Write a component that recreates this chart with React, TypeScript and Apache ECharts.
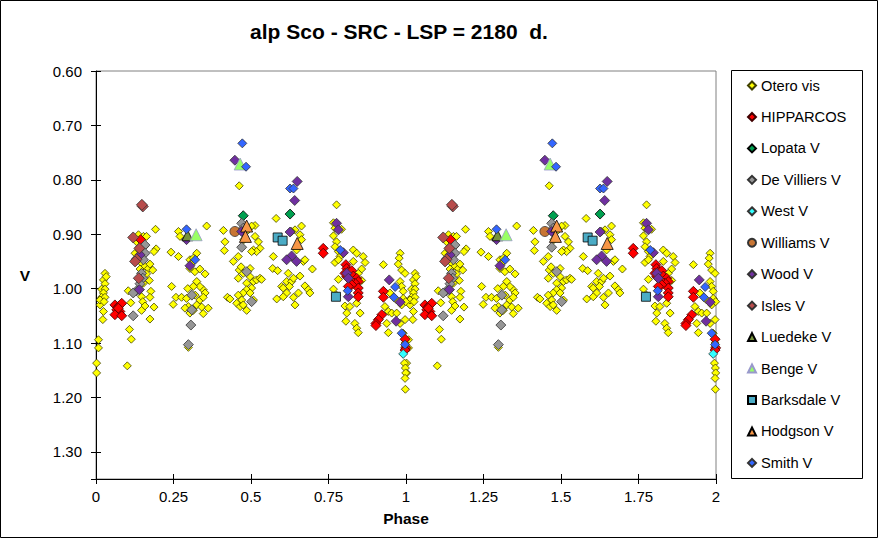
import React, { useEffect, useRef } from 'react';
import * as echarts from 'echarts';

// phase / V pairs for one cycle (0..1); the plot repeats it for 1..2
const oteroVis = [
  [0.029, 0.972], [0.024, 0.984], [0.029, 0.991], [0.018, 1.001], [0.029, 1.001], [0.024, 1.008],
  [0.018, 1.016], [0.029, 1.016], [0.013, 1.03], [0.024, 1.042], [0.022, 1.057], [0.008, 1.094],
  [0.008, 1.109], [0.002, 1.137], [0.002, 1.155], [0.013, 1.021], [0.026, 1.024], [0.033, 0.978],
  [0.104, 1.004], [0.112, 1.026], [0.108, 1.075], [0.114, 1.093], [0.101, 1.142],
  [0.137, 0.901], [0.131, 0.914], [0.142, 0.923], [0.153, 0.904], [0.163, 0.904], [0.126, 0.935],
  [0.137, 0.947], [0.147, 0.953], [0.158, 0.959], [0.142, 0.964], [0.169, 0.963], [0.183, 0.966],
  [0.174, 0.955], [0.163, 0.973], [0.172, 0.985], [0.153, 0.99], [0.142, 1.002], [0.177, 1.005],
  [0.147, 1.015], [0.174, 1.016], [0.151, 1.024], [0.158, 1.032], [0.147, 1.04], [0.187, 1.034],
  [0.174, 1.056], [0.192, 0.891], [0.194, 0.927], [0.187, 0.932], [0.156, 0.923], [0.14, 0.93],
  [0.242, 0.933], [0.266, 0.941], [0.266, 0.895], [0.271, 0.904], [0.244, 0.996], [0.249, 1.029],
  [0.258, 1.016], [0.276, 1.016], [0.292, 1.018], [0.298, 1.033], [0.287, 1.036], [0.303, 1.045],
  [0.314, 1.04], [0.325, 1.03], [0.335, 1.021], [0.346, 1.002], [0.352, 1.008], [0.346, 1.016],
  [0.341, 1.034], [0.362, 1.036], [0.346, 1.046], [0.335, 0.996], [0.303, 0.947], [0.309, 0.953],
  [0.325, 0.935], [0.314, 0.944], [0.303, 0.963], [0.319, 0.969], [0.335, 0.964], [0.352, 0.973],
  [0.325, 0.987], [0.314, 0.996], [0.298, 1.108], [0.357, 0.885], [0.32, 1.012], [0.296, 1.0],
  [0.411, 0.893], [0.416, 0.914], [0.414, 0.93], [0.443, 0.95], [0.459, 0.941], [0.462, 0.966],
  [0.475, 0.972], [0.459, 0.981], [0.486, 0.99], [0.497, 0.978], [0.508, 0.987], [0.518, 0.984],
  [0.529, 0.981], [0.534, 0.983], [0.502, 0.999], [0.486, 1.002], [0.475, 1.008], [0.459, 1.012],
  [0.47, 1.021], [0.497, 1.008], [0.424, 1.016], [0.432, 1.019], [0.454, 1.027], [0.465, 1.033],
  [0.475, 1.03], [0.486, 1.04], [0.508, 1.021], [0.462, 0.811], [0.513, 0.884], [0.513, 0.904],
  [0.524, 0.914], [0.529, 0.926], [0.508, 0.929], [0.518, 0.932], [0.502, 0.932], [0.477, 0.91],
  [0.502, 0.885], [0.491, 0.892], [0.497, 0.963], [0.468, 0.96],
  [0.581, 0.871], [0.572, 0.941], [0.57, 0.963], [0.586, 0.967], [0.599, 0.996], [0.604, 0.999],
  [0.615, 0.987], [0.62, 0.972], [0.631, 0.987], [0.637, 0.981], [0.624, 0.996], [0.615, 1.008],
  [0.604, 1.015], [0.583, 1.019], [0.637, 1.016], [0.642, 1.03], [0.653, 1.008], [0.658, 0.977],
  [0.674, 0.995], [0.685, 1.002], [0.69, 1.008], [0.698, 0.964], [0.669, 0.95], [0.674, 0.947],
  [0.663, 0.885], [0.658, 0.901], [0.663, 0.91], [0.647, 0.929], [0.642, 0.892], [0.631, 0.895],
  [0.776, 0.846], [0.766, 0.879], [0.771, 0.889], [0.782, 0.892], [0.792, 0.891], [0.766, 0.903],
  [0.776, 0.914], [0.771, 0.923], [0.782, 0.932], [0.787, 0.941], [0.771, 0.952], [0.782, 0.947],
  [0.798, 0.935], [0.83, 0.929], [0.841, 0.935], [0.862, 0.941], [0.868, 0.952], [0.857, 0.964],
  [0.846, 0.972], [0.835, 0.981], [0.83, 0.95], [0.857, 0.985], [0.782, 0.983], [0.766, 1.001],
  [0.776, 1.012], [0.803, 1.032], [0.809, 1.045], [0.806, 1.06], [0.819, 1.033], [0.835, 1.064],
  [0.841, 1.073], [0.846, 1.081], [0.852, 1.045], [0.841, 1.027],
  [0.927, 0.956], [0.981, 0.935], [0.978, 0.944], [0.975, 0.955], [0.986, 0.966], [0.997, 0.972],
  [0.981, 0.987], [0.986, 0.996], [0.991, 1.005], [0.991, 1.018], [0.97, 1.021], [0.948, 1.008],
  [0.932, 1.033], [0.943, 1.042], [0.954, 1.045], [0.938, 1.064], [0.943, 1.081], [0.97, 1.045],
  [0.981, 1.064], [0.997, 1.057], [0.986, 1.03], [0.999, 1.024], [0.991, 1.082], [0.997, 1.1],
  [0.998, 1.106], [0.995, 1.137], [0.998, 1.146], [0.999, 1.155], [0.997, 1.165], [0.998, 1.185],
];
const hipparcos = [
  [0.061, 1.03], [0.072, 1.033], [0.083, 1.027], [0.067, 1.039], [0.077, 1.042], [0.061, 1.048],
  [0.083, 1.05], [0.072, 1.036], [0.144, 0.91], [0.733, 0.926], [0.733, 0.935], [0.806, 0.956],
  [0.809, 0.963], [0.814, 0.969], [0.825, 0.967], [0.83, 0.977], [0.841, 0.981], [0.846, 0.987],
  [0.835, 0.99], [0.819, 0.984], [0.809, 0.978], [0.846, 0.999], [0.846, 1.008], [0.846, 1.015],
  [0.825, 0.993], [0.814, 0.996], [0.803, 0.972], [0.927, 1.005], [0.927, 1.016], [0.922, 1.048],
  [0.911, 1.057], [0.903, 1.064], [0.903, 1.068], [0.997, 1.093], [0.999, 1.109], [0.997, 1.113],
];
const lopata = [[0.475, 0.866], [0.626, 0.863]];
const deVilliers = [
  [0.158, 0.92], [0.158, 0.935], [0.153, 0.947], [0.147, 0.972], [0.151, 0.981], [0.142, 0.991],
  [0.131, 1.004], [0.12, 1.008], [0.12, 1.05], [0.47, 0.88], [0.475, 0.889], [0.47, 0.924],
  [0.486, 0.969], [0.502, 1.024], [0.309, 1.012], [0.309, 1.039], [0.306, 1.067], [0.298, 1.103],
];
const west = [[0.991, 1.12]];
const williams = [[0.448, 0.895]];
const wood = [
  [0.448, 0.764], [0.649, 0.803], [0.641, 0.838], [0.626, 0.896], [0.631, 0.94], [0.615, 0.947],
  [0.647, 0.95], [0.292, 0.91], [0.303, 0.958], [0.142, 0.938], [0.14, 1.002], [0.809, 0.972],
  [0.814, 0.981], [0.814, 1.015], [0.776, 0.88], [0.782, 0.892], [0.798, 0.934], [0.946, 0.984],
  [0.968, 1.06], [0.981, 1.025], [0.47, 0.895],
];
const isles = [[0.151, 0.849], [0.148, 0.846], [0.12, 0.906], [0.14, 0.926], [0.131, 0.946], [0.126, 0.95], [0.138, 0.981]];
const luedeke = [[0.295, 0.902]];
const benge = [[0.465, 0.771], [0.323, 0.901]];
const barksdale = [[0.586, 0.906], [0.602, 0.912], [0.774, 1.015]];
const hodgson = [[0.486, 0.885], [0.482, 0.904], [0.649, 0.917]];
const smith = [
  [0.472, 0.733], [0.484, 0.776], [0.626, 0.816], [0.637, 0.816], [0.292, 0.891], [0.32, 0.947],
  [0.788, 0.929], [0.812, 1.004], [0.965, 0.997], [0.961, 1.016], [0.986, 1.082], [0.997, 1.103],
];

const yTicks = [0.6, 0.7, 0.8, 0.9, 1.0, 1.1, 1.2, 1.3];

const FONT = 'Arial, "Liberation Sans", sans-serif';

// two cycles of phase
const twoCycles = (pts: number[][]) => pts.flatMap(([p, v]) => [[p, v], [p + 1, v]]);

const App = () => {
  const chartRef = useRef<HTMLDivElement>(null);

  useEffect(() => {
    if (!chartRef.current) return;
    const chart = echarts.init(chartRef.current, null, { renderer: 'svg' });

    const mk = (name: string, data: number[][], symbol: string, size: number, color: string, border = '#333') => ({
      name,
      type: 'scatter',
      data: twoCycles(data),
      symbol,
      symbolSize: size,
      itemStyle: { color, borderColor: border, borderWidth: 0.8, opacity: 1 },
      emphasis: { disabled: true },
    });

    const axisCommon = {
      axisLine: { show: true, lineStyle: { color: '#000', width: 1 } },
      splitLine: { show: false },
    };

    chart.setOption({
      animation: false,
      backgroundColor: '#fff',
      textStyle: { fontFamily: FONT },
      title: {
        text: 'alp Sco - SRC - LSP = 2180  d.',
        left: 394,
        top: 16,
        textAlign: 'center',
        textStyle: { fontSize: 21, fontWeight: 'bold', color: '#000', fontFamily: FONT },
      },
      grid: {
        left: 96, top: 71, width: 620, height: 408,
        show: true, borderColor: '#808080', borderWidth: 1,
      },
      legend: {
        orient: 'vertical',
        left: 747,
        top: 78,
        padding: 0,
        itemGap: 16.45,
        itemWidth: 8,
        itemHeight: 8,
        textStyle: { fontSize: 14.7, color: '#000', fontFamily: FONT },
        selectedMode: false,
      },
      xAxis: [
        {
          ...axisCommon,
          type: 'value', min: 0, max: 2, interval: 0.25,
          position: 'bottom',
          name: 'Phase', nameLocation: 'middle', nameGap: 31,
          nameTextStyle: { fontSize: 15.5, fontWeight: 'bold', color: '#000', fontFamily: FONT },
          axisTick: { show: true, length: 5, lineStyle: { color: '#000' } },
          axisLabel: { fontSize: 15, color: '#000', margin: 10, fontFamily: FONT },
        },
        {
          type: 'value', min: 0, max: 2, interval: 0.25,
          position: 'bottom', offset: 0,
          axisLine: { show: false },
          splitLine: { show: false },
          axisTick: { show: true, inside: true, length: 5, lineStyle: { color: '#000' } },
          axisLabel: { show: false },
        },
      ],
      yAxis: [
        {
          ...axisCommon,
          type: 'value', inverse: true, min: 0.6, max: 1.35, interval: 0.1,
          position: 'left',
          name: 'V', nameLocation: 'middle', nameGap: 66, nameRotate: 0,
          nameTextStyle: { fontSize: 15.5, fontWeight: 'bold', color: '#000', fontFamily: FONT },
          axisTick: { show: true, length: 5, lineStyle: { color: '#000' } },
          axisLabel: {
            fontSize: 15, color: '#000', margin: 14, fontFamily: FONT,
            formatter: (v: number) => (yTicks.some((t) => Math.abs(t - v) < 1e-6) ? v.toFixed(2) : ''),
          },
        },
        {
          type: 'value', inverse: true, min: 0.6, max: 1.35, interval: 0.1,
          position: 'left', offset: 0,
          axisLine: { show: false },
          splitLine: { show: false },
          axisTick: { show: true, inside: true, length: 5, lineStyle: { color: '#000' } },
          axisLabel: { show: false },
        },
      ],
      graphic: [
        { type: 'rect', shape: { x: 0.5, y: 0.5, width: 877, height: 537 }, style: { fill: 'none', stroke: '#000', lineWidth: 1 }, silent: true },
        { type: 'rect', shape: { x: 731.5, y: 70.5, width: 131, height: 408 }, style: { fill: 'none', stroke: '#000', lineWidth: 1 }, silent: true },
      ],
      series: [
        mk('Otero vis', oteroVis, 'diamond', 8, '#FFFF00', '#404000'),
        mk('HIPPARCOS', hipparcos, 'diamond', 10, '#FF0000', '#400000'),
        mk('Lopata V', lopata, 'diamond', 10, '#00A050', '#000'),
        mk('De Villiers V', deVilliers, 'diamond', 10, '#969696', '#333'),
        mk('West V', west, 'diamond', 9, '#33FFFF', '#333'),
        mk('Williams V', williams, 'circle', 10, '#C87533', '#333'),
        mk('Wood V', wood, 'diamond', 10, '#7030A0', '#333'),
        mk('Isles V', isles, 'diamond', 11, '#B84C4C', '#333'),
        mk('Luedeke V', luedeke, 'triangle', 11, '#76923C', '#000'),
        mk('Benge V', benge, 'triangle', 12, '#99FF66', '#9999CC'),
        mk('Barksdale V', barksdale, 'rect', 9, '#4BACC6', '#000'),
        mk('Hodgson V', hodgson, 'triangle', 12, '#F79646', '#000'),
        mk('Smith V', smith, 'diamond', 9, '#3366FF', '#333'),
      ],
    });

    return () => {
      chart.dispose();
    };
  }, []);

  return (
    <div
      ref={chartRef}
      style={{ position: 'fixed', left: 0, top: 0, width: '878px', height: '538px' }}
    ></div>
  );
};

export default App;
